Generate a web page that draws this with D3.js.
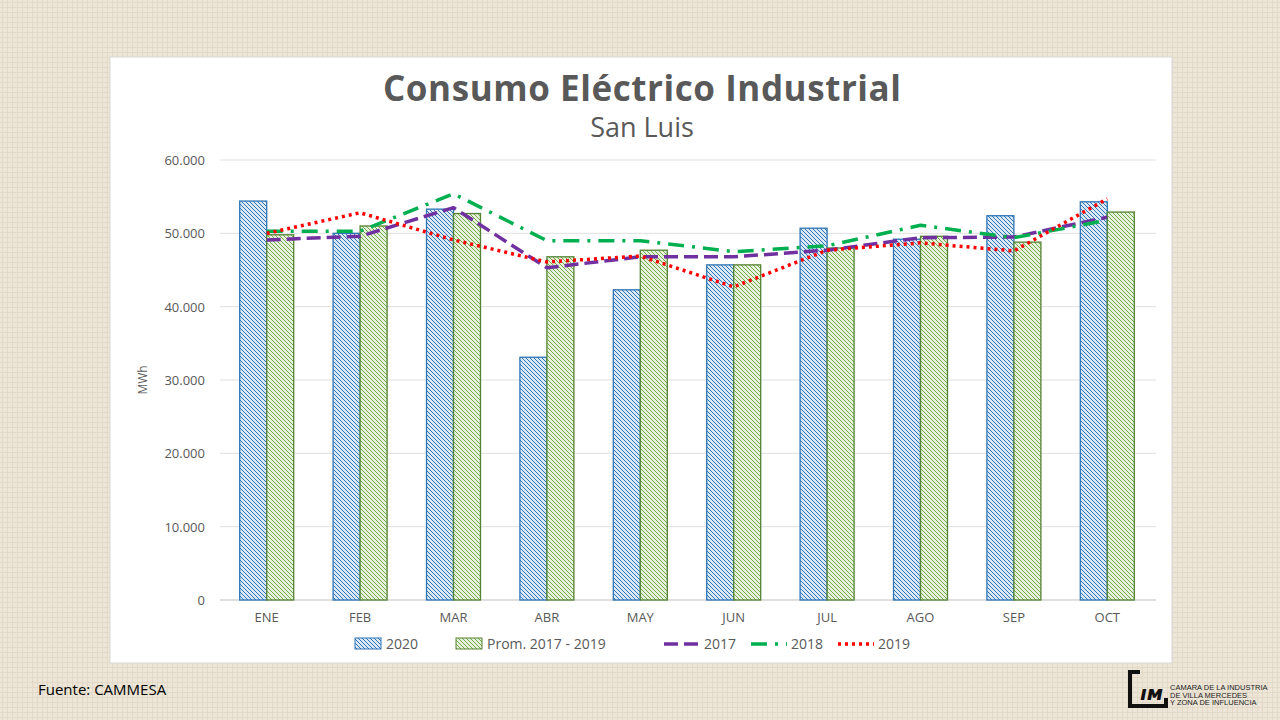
<!DOCTYPE html>
<html><head><meta charset="utf-8">
<script src="https://cdn.jsdelivr.net/npm/d3@7"></script>
<style>body{margin:0;background:#ece4d4;}svg{display:block}</style>
</head><body>
<svg id="c" width="1280" height="720"></svg>
<script>
// Data
const months = ['ENE','FEB','MAR','ABR','MAY','JUN','JUL','AGO','SEP','OCT'];
const v2020 = [54400,50000,53300,33100,42300,45700,50700,49200,52400,54300];
const vProm = [49800,51000,52700,46800,47700,45700,48000,49600,48800,52900];
const v2017 = [49100,49600,53500,45300,46800,46800,47700,49400,49500,52200];
const v2018 = [50300,50300,55400,49000,49000,47500,48300,51100,49400,51800];
const v2019 = [50000,52800,49100,46100,46900,42700,47700,48700,47600,54700];
const yTicks = [0,10000,20000,30000,40000,50000,60000];

const svg = d3.select('#c');
const defs = svg.append('defs');

// background texture
const tex = defs.append('pattern').attr('id','tex').attr('width',5).attr('height',5).attr('patternUnits','userSpaceOnUse');
tex.append('rect').attr('width',5).attr('height',5).attr('fill','#ede6d8');
tex.append('path').attr('d','M0 2.5H5M2.5 0V5').attr('stroke','#e2d9c7').attr('stroke-width',1);
svg.append('rect').attr('width',1280).attr('height',720).attr('fill','url(#tex)');

function hatch(id, bg, line) {
  const p = defs.append('pattern').attr('id',id).attr('width',4).attr('height',4)
    .attr('patternUnits','userSpaceOnUse');
  p.append('rect').attr('width',4).attr('height',4).attr('fill',bg);
  p.append('path').attr('d','M-1 3L1 5M0 0L4 4M3 -1L5 1').attr('stroke',line).attr('stroke-width',1);
}
hatch('hB','#dbe9f6','#2e75b6');
hatch('hG','#e6f0dc','#70ad47');

// panel
svg.append('rect').attr('x',110).attr('y',57).attr('width',1062).attr('height',606)
  .attr('fill','#fff').attr('stroke','#d8d8d8');

svg.append('text').attr('x',642).attr('y',101).attr('text-anchor','middle')
  .attr('font-family','Open Sans').attr('font-weight','bold').attr('font-size',35)
  .attr('textLength',518).attr('fill','#595959')
  .text('Consumo Eléctrico Industrial');
svg.append('text').attr('x',642).attr('y',137).attr('text-anchor','middle')
  .attr('font-family','Open Sans').attr('font-size',27).attr('fill','#595959').text('San Luis');

const x = d3.scaleBand().domain(months).range([220,1154]);
const y = d3.scaleLinear().domain([0,60000]).range([600,160]);
const bw = 27;

const g = svg.append('g');
g.selectAll('.grid').data(yTicks).join('line')
  .attr('x1',220).attr('x2',1156).attr('y1',d=>y(d)).attr('y2',d=>y(d))
  .attr('stroke',d=>d===0?'#bfbfbf':'#e0e0e0');
g.selectAll('.yl').data(yTicks).join('text')
  .attr('x',205).attr('y',d=>y(d)+5).attr('text-anchor','end')
  .attr('font-family','Open Sans').attr('font-size',13).attr('fill','#595959')
  .text(d=>d===0?'0':d3.format(',')(d).replace(',','.'));
g.selectAll('.xl').data(months).join('text')
  .attr('x',d=>x(d)+x.bandwidth()/2).attr('y',622).attr('text-anchor','middle')
  .attr('font-family','Open Sans').attr('font-size',13).attr('fill','#595959').text(d=>d);
svg.append('text').attr('transform','translate(147,380) rotate(-90)').attr('text-anchor','middle')
  .attr('font-family','Open Sans').attr('font-size',12).attr('fill','#595959').text('MWh');

const cx = i => x(months[i]) + x.bandwidth()/2;
g.selectAll('.b1').data(v2020).join('rect')
  .attr('x',(d,i)=>cx(i)-bw).attr('y',d=>y(d)).attr('width',bw).attr('height',d=>y(0)-y(d))
  .attr('fill','url(#hB)').attr('stroke','#2e75b6').attr('stroke-width',1.3);
g.selectAll('.b2').data(vProm).join('rect')
  .attr('x',(d,i)=>cx(i)).attr('y',d=>y(d)).attr('width',bw).attr('height',d=>y(0)-y(d))
  .attr('fill','url(#hG)').attr('stroke','#548235').attr('stroke-width',1.3);

const line = d3.line().x((d,i)=>cx(i)).y(d=>y(d));
const series = [
  {v:v2017,c:'#7030a0',dash:'14,6'},
  {v:v2018,c:'#00b050',dash:'16,8,3,8'},
  {v:v2019,c:'#ff0000',dash:'3,4'}
];
series.forEach(s=>{
  g.append('path').attr('d',line(s.v)).attr('fill','none').attr('stroke',s.c)
    .attr('stroke-width',3.5).attr('stroke-dasharray',s.dash).attr('stroke-linejoin','round');
});

// legend
const lg = svg.append('g').attr('font-family','Open Sans').attr('font-size',14).attr('fill','#595959');
const items = [
  {t:'2020',type:'bar',f:'url(#hB)',s:'#2e75b6',x:355},
  {t:'Prom. 2017 - 2019',type:'bar',f:'url(#hG)',s:'#548235',x:456},
  {t:'2017',type:'line',s:series[0],x:664},
  {t:'2018',type:'line',s:series[1],x:751},
  {t:'2019',type:'line',s:series[2],x:838}
];
items.forEach(it=>{
  if (it.type==='bar') {
    lg.append('rect').attr('x',it.x).attr('y',638).attr('width',26).attr('height',11)
      .attr('fill',it.f).attr('stroke',it.s);
    lg.append('text').attr('x',it.x+31).attr('y',649).text(it.t);
  } else {
    lg.append('line').attr('x1',it.x).attr('x2',it.x+36).attr('y1',644).attr('y2',644)
      .attr('stroke',it.s.c).attr('stroke-width',3.5).attr('stroke-dasharray',it.s.dash);
    lg.append('text').attr('x',it.x+40).attr('y',649).text(it.t);
  }
});

svg.append('text').attr('x',38).attr('y',695).attr('font-family','Open Sans').attr('font-size',15)
  .attr('fill','#000').text('Fuente: CAMMESA');

// logo
const lo = svg.append('g');
lo.append('path').attr('d','M1140 672H1130V706H1166V698').attr('fill','none').attr('stroke','#111').attr('stroke-width',4);
lo.append('text').attr('x',1140).attr('y',700).attr('font-family','DejaVu Sans').attr('font-weight','bold')
  .attr('font-style','italic').attr('font-size',20).attr('fill','#111').text('ıм');
const lt = lo.append('text').attr('font-family','Liberation Sans Narrow, Liberation Sans').attr('font-size',7.5).attr('fill','#222');
['CAMARA DE LA INDUSTRIA','DE VILLA MERCEDES','Y ZONA DE INFLUENCIA'].forEach((t,i)=>
  lt.append('tspan').attr('x',1170).attr('y',690+i*7.5).text(t));
</script>
</body></html>
